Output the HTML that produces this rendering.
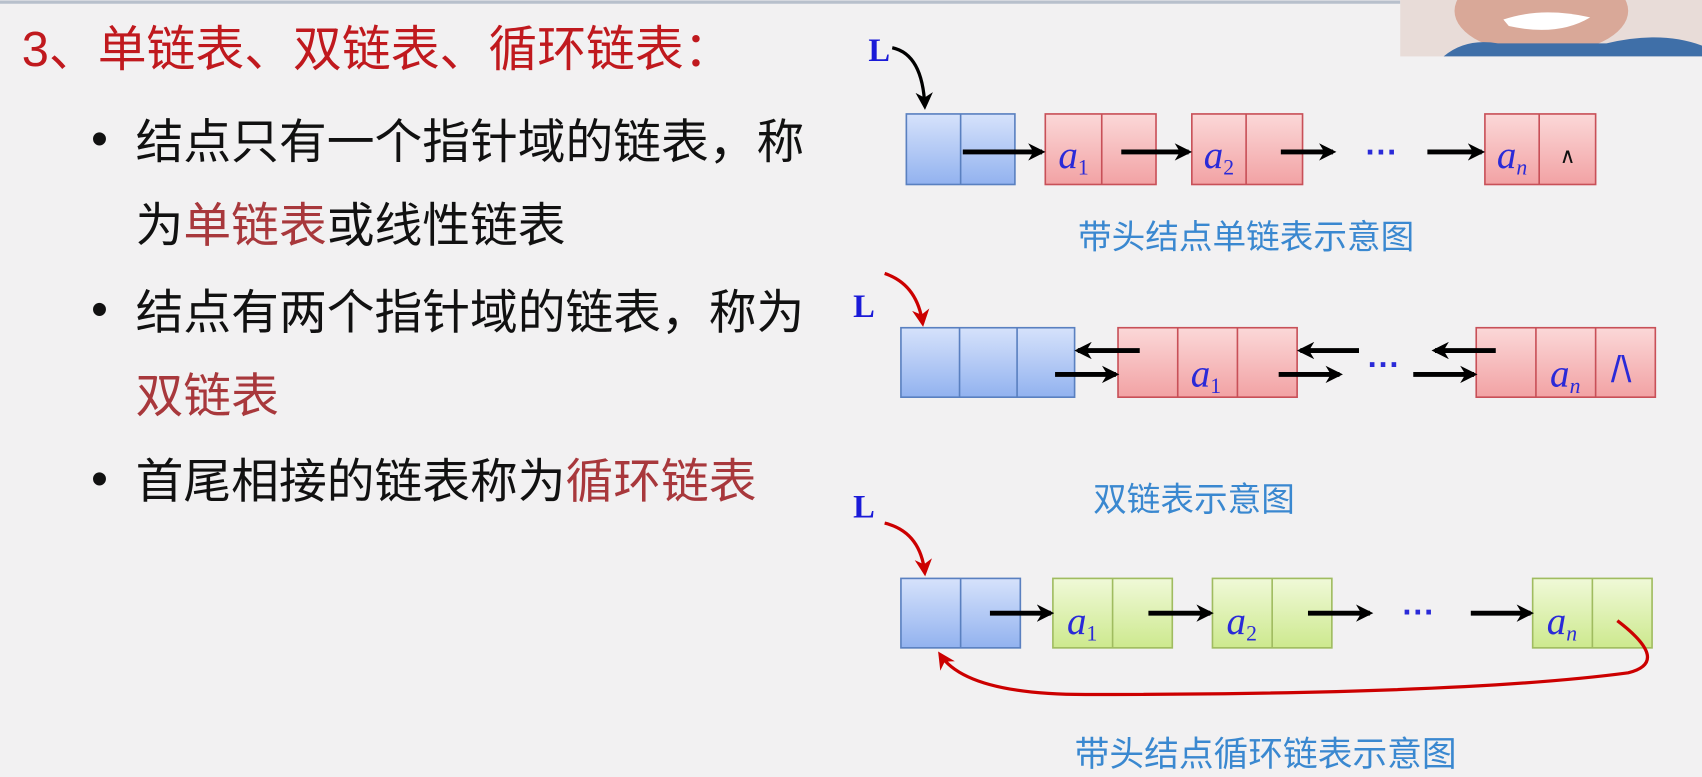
<!DOCTYPE html>
<html><head><meta charset="utf-8"><style>
html,body{margin:0;padding:0;background:#f2f1f2;overflow:hidden}
svg{display:block}
.cj{font-family:"Liberation Sans","Noto Sans CJK SC",sans-serif}
.lb{font-family:"Liberation Serif",serif;font-style:italic;fill:#2a2ad8}
</style></head><body>
<svg width="1702" height="777" viewBox="0 0 1568 716" preserveAspectRatio="none" xmlns="http://www.w3.org/2000/svg">
<defs>
<linearGradient id="bl" x1="0" y1="0" x2="0" y2="1"><stop offset="0" stop-color="#d6e2fb"/><stop offset="1" stop-color="#92b2ef"/></linearGradient>
<linearGradient id="pk" x1="0" y1="0" x2="0" y2="1"><stop offset="0" stop-color="#fbd8d8"/><stop offset="1" stop-color="#f2a2a4"/></linearGradient>
<linearGradient id="gr" x1="0" y1="0" x2="0" y2="1"><stop offset="0" stop-color="#f0f9d8"/><stop offset="1" stop-color="#cde98e"/></linearGradient>
<marker id="ak" viewBox="0 0 10 10" markerWidth="16" markerHeight="16" refX="8" refY="5" orient="auto" markerUnits="userSpaceOnUse"><path d="M0,0 L10,5 L0,10 L3,5Z" fill="#000"/></marker>
<marker id="ar" viewBox="0 0 10 10" markerWidth="16" markerHeight="16" refX="8" refY="5" orient="auto" markerUnits="userSpaceOnUse"><path d="M0,0 L10,5 L0,10 L3,5Z" fill="#c00"/></marker>
</defs>
<rect width="1568" height="716" fill="#f2f1f2"/>
<line x1="0" y1="2" x2="1290" y2="2" stroke="#b8c0cc" stroke-width="3"/>
<!-- webcam -->
<rect x="1290" y="0" width="278" height="52" fill="#e8dcd8"/>
<ellipse cx="1420" cy="10" rx="80" ry="40" fill="#d9a898"/>
<path d="M1385,18 Q1420,6 1465,16 Q1435,34 1390,24Z" fill="#fff"/>
<path d="M1330,52 Q1350,35 1380,40 L1480,40 Q1530,28 1568,42 L1568,52Z" fill="#3f6fa8"/>
<!-- left text -->
<text x="20" y="61" class="cj" font-size="45" fill="#c0191e">3、单链表、双链表、循环链表：</text>
<g class="cj" font-size="44" fill="#111">
<text x="84" y="143">•</text>
<text x="125" y="146">结点只有一个指针域的链表，称</text>
<text x="125" y="223">为<tspan fill="#a8383c">单链表</tspan>或线性链表</text>
<text x="84" y="300">•</text>
<text x="125" y="303">结点有两个指针域的链表，称为</text>
<text x="125" y="380" fill="#a8383c">双链表</text>
<text x="84" y="456">•</text>
<text x="125" y="459">首尾相接的链表称为<tspan fill="#a8383c">循环链表</tspan></text>
</g>
<!-- diagram 1 -->
<text x="800" y="56" font-family="Liberation Serif" font-size="30" fill="#1a1ad8" font-weight="bold">L</text>
<path d="M822,44 Q850,50 852,98" fill="none" stroke="#000" stroke-width="3" marker-end="url(#ak)"/>
<g stroke-width="1.5">
<rect x="835" y="105" width="100" height="65" fill="url(#bl)" stroke="#5a80c0"/><line x1="885" y1="105" x2="885" y2="170" stroke="#5a80c0"/>
<rect x="963" y="105" width="102" height="65" fill="url(#pk)" stroke="#c85058"/><line x1="1015" y1="105" x2="1015" y2="170" stroke="#c85058"/>
<rect x="1098" y="105" width="102" height="65" fill="url(#pk)" stroke="#c85058"/><line x1="1148" y1="105" x2="1148" y2="170" stroke="#c85058"/>
<rect x="1368" y="105" width="102" height="65" fill="url(#pk)" stroke="#c85058"/><line x1="1418" y1="105" x2="1418" y2="170" stroke="#c85058"/>
</g>
<g stroke="#000" stroke-width="4.5">
<line x1="887" y1="140" x2="960" y2="140" marker-end="url(#ak)"/>
<line x1="1033" y1="140" x2="1095" y2="140" marker-end="url(#ak)"/>
<line x1="1180" y1="140" x2="1228" y2="140" marker-end="url(#ak)"/>
<line x1="1315" y1="140" x2="1365" y2="140" marker-end="url(#ak)"/>
</g>
<text x="975" y="155" class="lb" font-size="36">a<tspan font-size="20" dy="6" font-style="normal">1</tspan></text>
<text x="1109" y="155" class="lb" font-size="36">a<tspan font-size="20" dy="6" font-style="normal">2</tspan></text>
<text x="1379" y="155" class="lb" font-size="36">a<tspan font-size="20" dy="6">n</tspan></text>
<text x="1258" y="150" font-size="30" fill="#2a2ad8" font-family="Liberation Sans" font-weight="bold">···</text>
<text x="1437" y="150" font-size="20" font-family="Liberation Sans" fill="#111">∧</text>
<text x="1148" y="229" class="cj" font-size="31" fill="#3a88d0" text-anchor="middle">带头结点单链表示意图</text>
<!-- diagram 2 -->
<text x="786" y="292" font-family="Liberation Serif" font-size="30" fill="#1a1ad8" font-weight="bold">L</text>
<path d="M815,252 Q845,262 850,298" fill="none" stroke="#c00" stroke-width="3" marker-end="url(#ar)"/>
<g stroke-width="1.5">
<rect x="830" y="302" width="160" height="64" fill="url(#bl)" stroke="#5a80c0"/>
<line x1="884" y1="302" x2="884" y2="366" stroke="#5a80c0"/><line x1="937" y1="302" x2="937" y2="366" stroke="#5a80c0"/>
<rect x="1030" y="302" width="165" height="64" fill="url(#pk)" stroke="#c85058"/>
<line x1="1085" y1="302" x2="1085" y2="366" stroke="#c85058"/><line x1="1140" y1="302" x2="1140" y2="366" stroke="#c85058"/>
<rect x="1360" y="302" width="165" height="64" fill="url(#pk)" stroke="#c85058"/>
<line x1="1415" y1="302" x2="1415" y2="366" stroke="#c85058"/><line x1="1470" y1="302" x2="1470" y2="366" stroke="#c85058"/>
</g>
<g stroke="#000" stroke-width="4.5">
<line x1="1050" y1="323" x2="993" y2="323" marker-end="url(#ak)"/>
<line x1="972" y1="345" x2="1028" y2="345" marker-end="url(#ak)"/>
<line x1="1252" y1="323" x2="1198" y2="323" marker-end="url(#ak)"/>
<line x1="1178" y1="345" x2="1234" y2="345" marker-end="url(#ak)"/>
<line x1="1378" y1="323" x2="1322" y2="323" marker-end="url(#ak)"/>
<line x1="1302" y1="345" x2="1358" y2="345" marker-end="url(#ak)"/>
</g>
<text x="1097" y="356" class="lb" font-size="36">a<tspan font-size="20" dy="6" font-style="normal">1</tspan></text>
<text x="1428" y="356" class="lb" font-size="36">a<tspan font-size="20" dy="6">n</tspan></text>
<text x="1260" y="346" font-size="30" fill="#2a2ad8" font-family="Liberation Sans" font-weight="bold">···</text>
<text x="1484" y="352" font-size="34" font-family="Liberation Sans" fill="#2a2ad8">/\</text>
<text x="1100" y="471" class="cj" font-size="31" fill="#3a88d0" text-anchor="middle">双链表示意图</text>
<!-- diagram 3 -->
<text x="786" y="477" font-family="Liberation Serif" font-size="30" fill="#1a1ad8" font-weight="bold">L</text>
<path d="M815,482 Q848,490 852,528" fill="none" stroke="#c00" stroke-width="3" marker-end="url(#ar)"/>
<g stroke-width="1.5">
<rect x="830" y="533" width="110" height="64" fill="url(#bl)" stroke="#5a80c0"/><line x1="885" y1="533" x2="885" y2="597" stroke="#5a80c0"/>
<rect x="970" y="533" width="110" height="64" fill="url(#gr)" stroke="#a0bc60"/><line x1="1025" y1="533" x2="1025" y2="597" stroke="#a0bc60"/>
<rect x="1117" y="533" width="110" height="64" fill="url(#gr)" stroke="#a0bc60"/><line x1="1172" y1="533" x2="1172" y2="597" stroke="#a0bc60"/>
<rect x="1412" y="533" width="110" height="64" fill="url(#gr)" stroke="#a0bc60"/><line x1="1467" y1="533" x2="1467" y2="597" stroke="#a0bc60"/>
</g>
<g stroke="#000" stroke-width="4.5">
<line x1="912" y1="565" x2="968" y2="565" marker-end="url(#ak)"/>
<line x1="1058" y1="565" x2="1115" y2="565" marker-end="url(#ak)"/>
<line x1="1205" y1="565" x2="1262" y2="565" marker-end="url(#ak)"/>
<line x1="1355" y1="565" x2="1410" y2="565" marker-end="url(#ak)"/>
</g>
<text x="983" y="584" class="lb" font-size="36">a<tspan font-size="20" dy="6" font-style="normal">1</tspan></text>
<text x="1130" y="584" class="lb" font-size="36">a<tspan font-size="20" dy="6" font-style="normal">2</tspan></text>
<text x="1425" y="584" class="lb" font-size="36">a<tspan font-size="20" dy="6">n</tspan></text>
<text x="1292" y="574" font-size="30" fill="#2a2ad8" font-family="Liberation Sans" font-weight="bold">···</text>
<path d="M1490,572 Q1540,610 1500,620 Q1350,640 1000,640 Q890,640 866,603" fill="none" stroke="#c00" stroke-width="3" marker-end="url(#ar)"/>
<text x="1166" y="706" class="cj" font-size="32" fill="#3a88d0" text-anchor="middle">带头结点循环链表示意图</text>
</svg>
</body></html>
